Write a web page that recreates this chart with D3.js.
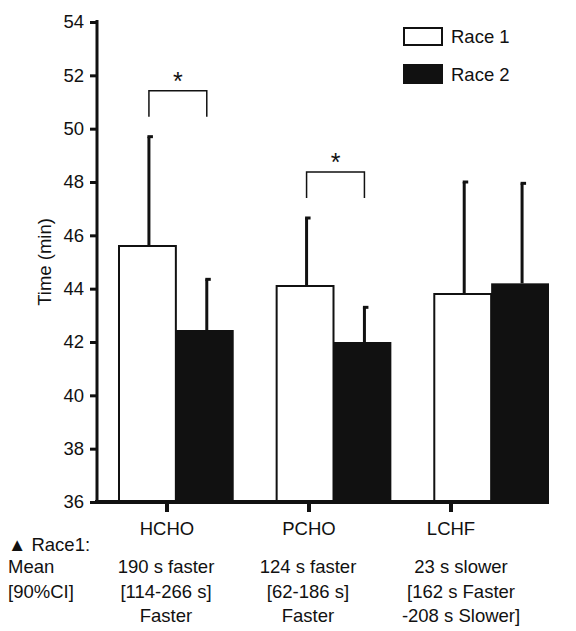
<!DOCTYPE html>
<html><head><meta charset="utf-8">
<script src="https://cdn.jsdelivr.net/npm/d3@7"></script>
<style>body{margin:0;background:#fff}text{font-family:"Liberation Sans",Arial,sans-serif;fill:#111}</style>
</head><body><svg id="c" width="576" height="631"></svg>
<script>
const groups = ["HCHO", "PCHO", "LCHF"];
const race1 = [45.6, 44.1, 43.8];
const race1Err = [49.7, 46.65, 48.0];
const race2 = [42.45, 42.0, 44.2];
const race2Err = [44.35, 43.3, 47.95];
const yTicks = [36, 38, 40, 42, 44, 46, 48, 50, 52, 54];
const sigGroups = [0, 1];
const notes = [
  ["190 s faster", "[114-266 s]", "Faster"],
  ["124 s faster", "[62-186 s]", "Faster"],
  ["23 s slower", "[162 s Faster", "-208 s Slower]"]
];
const fs = 18.5;

const svg = d3.select("#c");
const y = d3.scaleLinear().domain([36, 54]).range([502, 22]);
const x = d3.scaleBand().domain(groups).range([118, 549]).paddingInner(0.266).paddingOuter(0);
const bw = x.bandwidth() / 2;
const tickX = d3.scalePoint().domain(groups).range([167, 451]);

function drawErr(vals, errs, off) {
  groups.forEach((g, i) => {
    const cx = x(g) + off + 2;
    svg.append("line").attr("x1", cx).attr("x2", cx).attr("y1", y(vals[i])).attr("y2", y(errs[i]))
      .attr("stroke", "#111").attr("stroke-width", 3);
    svg.append("line").attr("x1", cx - 1.5).attr("x2", cx + 4).attr("y1", y(errs[i])).attr("y2", y(errs[i]))
      .attr("stroke", "#111").attr("stroke-width", 3);
  });
}
drawErr(race1, race1Err, bw / 2);
drawErr(race2, race2Err, bw + bw / 2);

svg.selectAll(".r1").data(race1).enter().append("rect")
  .attr("x", (d, i) => x(groups[i]) + 1).attr("width", bw - 1)
  .attr("y", d => y(d)).attr("height", d => y(36) - y(d))
  .attr("fill", "#fff").attr("stroke", "#111").attr("stroke-width", 2);
svg.selectAll(".r2").data(race2).enter().append("rect")
  .attr("x", (d, i) => x(groups[i]) + bw).attr("width", bw)
  .attr("y", d => y(d)).attr("height", d => y(36) - y(d))
  .attr("fill", "#111");

// y axis
const ya = svg.append("g").attr("transform", "translate(97,0)")
  .call(d3.axisLeft(y).tickValues(yTicks).tickSize(7).tickPadding(6));
ya.select(".domain").remove();
ya.selectAll(".tick line").attr("stroke", "#111").attr("stroke-width", 3);
ya.selectAll("text").attr("font-size", fs).attr("fill", "#111").attr("font-family", "Liberation Sans, Arial, sans-serif");
svg.append("line").attr("x1", 97).attr("x2", 97).attr("y1", 20).attr("y2", 504)
  .attr("stroke", "#111").attr("stroke-width", 3);

svg.append("text").attr("transform", "translate(51,262) rotate(-90)").attr("text-anchor", "middle")
  .attr("font-size", fs).text("Time (min)");

// x axis
svg.append("line").attr("x1", 95).attr("x2", 549).attr("y1", 502).attr("y2", 502)
  .attr("stroke", "#111").attr("stroke-width", 4);
groups.forEach(g => {
  svg.append("line").attr("x1", tickX(g)).attr("x2", tickX(g)).attr("y1", 502).attr("y2", 512)
    .attr("stroke", "#111").attr("stroke-width", 4);
  svg.append("text").attr("x", tickX(g)).attr("y", 535).attr("text-anchor", "middle")
    .attr("font-size", fs).text(g);
});

// significance brackets
sigGroups.forEach(i => {
  const g = groups[i];
  const x1 = x(g) + bw / 2 + 2, x2 = x(g) + bw + bw / 2 + 2;
  const top = y(race1Err[i]) - 46, bot = top + 26;
  svg.append("path").attr("d", `M${x1},${bot}V${top}H${x2}V${bot}`)
    .attr("fill", "none").attr("stroke", "#111").attr("stroke-width", 1.5);
  svg.append("text").attr("x", (x1 + x2) / 2).attr("y", top - 1).attr("text-anchor", "middle")
    .attr("font-size", 25).text("*");
});

// legend
svg.append("rect").attr("x", 404).attr("y", 28).attr("width", 38).attr("height", 17)
  .attr("fill", "#fff").attr("stroke", "#111").attr("stroke-width", 2);
svg.append("text").attr("x", 451).attr("y", 43).attr("font-size", fs).text("Race 1");
svg.append("rect").attr("x", 403).attr("y", 64).attr("width", 40).attr("height", 20).attr("fill", "#111");
svg.append("text").attr("x", 451).attr("y", 81).attr("font-size", fs).text("Race 2");

// notes
svg.append("text").attr("x", 8).attr("y", 551).attr("font-size", fs).text("▲ Race1:");
svg.append("text").attr("x", 8).attr("y", 573).attr("font-size", fs).text("Mean");
svg.append("text").attr("x", 8).attr("y", 598).attr("font-size", fs).text("[90%CI]");
const noteX = [166, 308, 461];
notes.forEach((lines, i) => lines.forEach((t, j) => {
  svg.append("text").attr("x", noteX[i]).attr("y", 573 + j * 24.5).attr("text-anchor", "middle")
    .attr("font-size", fs).text(t);
}));
</script></body></html>
